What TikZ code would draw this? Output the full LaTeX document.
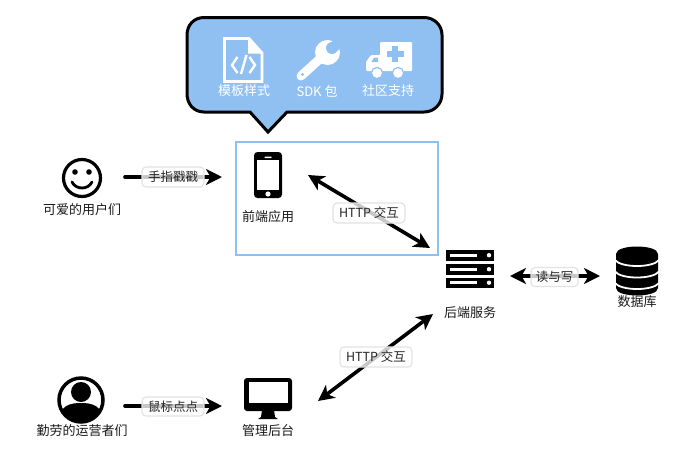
\documentclass[tikz,border=0pt]{standalone}
\usepackage{fontspec}
\setmainfont{Noto Sans CJK SC}
\usetikzlibrary{arrows.meta}
\definecolor{bubbleblue}{HTML}{90C0F2}
\definecolor{framegray}{HTML}{E2E2E2}
\tikzset{
 x=1pt,y=-1pt,
 conn/.style={line width=3.6pt,black,line cap=round,-{Stealth[length=16pt,width=16pt,inset=4.5pt]}},
 conntwo/.style={line width=3.6pt,black,{Stealth[length=16pt,width=16pt,inset=4.5pt]}-{Stealth[length=16pt,width=16pt,inset=4.5pt]}},
 caption/.style={inner sep=0pt,font=\fontsize{13}{15}\selectfont,text=black!90},
 bubbletext/.style={inner sep=0pt,font=\fontsize{13}{15}\selectfont,text=white},
 edgelabel/.style={draw=framegray,line width=1.2pt,rounded corners=4pt,fill=white,fill opacity=.78,text opacity=1,draw opacity=1,text=black!85,inner sep=0pt,font=\fontsize{12.5}{15}\selectfont},
 glyphwhite/.style={draw=white,line width=3pt,line join=miter},
}
\begin{document}
\begin{tikzpicture}
\useasboundingbox (0,0) rectangle (695,461);
% bubble
\draw[fill=bubbleblue,line width=3pt,line join=miter]
 (204,17.5) -- (424,17.5) .. controls (434,17.5) and (442,25) .. (442,35)
 -- (442,94) .. controls (442,104) and (434,112) .. (424,112)
 -- (287,112) -- (268,132) -- (250,112) -- (204,112)
 .. controls (194,112) and (187,104) .. (187,94)
 -- (187,35) .. controls (187,25) and (194,17.5) .. (204,17.5) -- cycle;
% document icon
\draw[glyphwhite,line width=2.8pt] (224.5,38.5) -- (249,38.5) -- (262,53) -- (262,81.5) -- (224.5,81.5) -- cycle;
\fill[white] (248,38) -- (248,53.5) -- (262,53.5) -- cycle;
\draw[white,line width=2.4pt] (237.5,57) -- (232,65) -- (237.5,73);
\draw[white,line width=2.4pt] (249.5,57) -- (255,65) -- (249.5,73);
\draw[white,line width=2.4pt] (246.5,55) -- (241,74);
\node[bubbletext] (tpl) at (244,91) {模板样式};
% wrench
\draw[white,line width=9pt,line cap=round] (301,76) -- (322,57);
\fill[white] (327.5,52.5) circle[radius=12.5];
\fill[bubbleblue] (332,48) circle[radius=6];
\fill[bubbleblue] (328,46) -- (337,36) -- (345,44) -- (336,52) -- cycle;
\fill[bubbleblue] (302.5,74.5) circle[radius=1.7];
\node[bubbletext] (sdk) at (317,91) {SDK 包};
% ambulance
\fill[white,rounded corners=1pt] (380,42) -- (412,42) -- (412,71) -- (366,71) -- (366,62) -- (371,55) -- (380,55) -- cycle;
\fill[bubbleblue] (392,45.5) rectangle (398,62);
\fill[bubbleblue] (387,51) rectangle (403.5,57);
\fill[bubbleblue] (371.5,62) -- (374,57.5) -- (378,57.5) -- (378,62) -- cycle;
\draw[bubbleblue,line width=1.2pt,fill=white] (377,73) circle[radius=5.6];
\draw[bubbleblue,line width=1.2pt,fill=white] (398,73) circle[radius=5.6];
\node[bubbletext] (sup) at (388,91) {社区支持};
% frame
\draw[bubbleblue,line width=2pt] (236,141.5) rectangle (438,255);
% smile
\draw[line width=3.2pt] (82,178) circle[radius=18.5];
\fill (75,172) circle[radius=2.8];
\fill (89,172) circle[radius=2.8];
\draw[line width=2.8pt,line cap=round] (72,182) .. controls (76,190) and (88,190) .. (92,182);
\node[caption] (users) at (82,210) {可爱的用户们};
% phone
\fill[rounded corners=3.5pt] (254,152) rectangle (282,198);
\fill[white] (257,160) rectangle (279,190);
\fill[white] (268,194) circle[radius=2.6];
\fill[white,rounded corners=.5pt] (264.5,156.5) rectangle (271.5,158);
\node[caption] (front) at (268,217) {前端应用};
% server
\foreach \a/\b in {250/261,264/274.5,277.5/288}{
 \fill (446,\a) rectangle (494,\b);
 \fill[white] (450,\a+3.6) rectangle (477,\a+6.8);
 \fill[white] (489,\a+5.2) circle[radius=2.2];
}
\node[caption] (back) at (470,313) {后端服务};
% database
\fill (616,254) .. controls (616,244) and (658,244) .. (658,254) -- (658,288)
 .. controls (658,298) and (616,298) .. (616,288) -- cycle;
\foreach \y in {260,271.5,283}{
 \draw[white,line width=1.8pt] (615,\y) .. controls (621,\y+8) and (653,\y+8) .. (659,\y);
}
\node[caption] (db) at (637,302) {数据库};
% operator
\begin{scope}
\clip (81,400) circle[radius=22];
\fill (81,392) circle[radius=10];
\fill (58,425) .. controls (58,404) and (72,403) .. (81,403) .. controls (90,403) and (104,404) .. (104,425) -- cycle;
\end{scope}
\draw[line width=3.5pt] (81,400) circle[radius=22];
\node[caption] (ops) at (82,431) {勤劳的运营者们};
% monitor
\fill[rounded corners=3pt] (244,378) rectangle (292,411);
\fill[white] (248.5,382) rectangle (287.5,403);
\fill (262,410) -- (274,410) -- (275,417) -- (278,419) -- (258,419) -- (261,417) -- cycle;
\node[caption] (admin) at (268,431) {管理后台};
% connectors
\coordinate (c1a) at (125,177); \coordinate (c1b) at (222,177);
\coordinate (c2a) at (308,175); \coordinate (c2b) at (430,248);
\coordinate (c3a) at (510,276); \coordinate (c3b) at (600,276);
\coordinate (c4a) at (433,314); \coordinate (c4b) at (318,401);
\coordinate (c5a) at (125,406); \coordinate (c5b) at (222,406);
\draw[conn] (c1a) -- (c1b);
\draw[conntwo] (c2a) -- (c2b);
\draw[conntwo] (c3a) -- (c3b);
\draw[conntwo] (c4a) -- (c4b);
\draw[conn] (c5a) -- (c5b);
% labels
\node[edgelabel,minimum width=62pt,minimum height=20pt] (l1) at (173,177) {手指戳戳};
\node[edgelabel,minimum width=72pt,minimum height=20pt] (l2) at (369,213) {HTTP 交互};
\node[edgelabel,minimum width=47pt,minimum height=19pt] (l3) at (554.5,277) {读与写};
\node[edgelabel,minimum width=72pt,minimum height=20pt] (l4) at (376,357) {HTTP 交互};
\node[edgelabel,minimum width=62pt,minimum height=19pt] (l5) at (173,406.5) {鼠标点点};
\end{tikzpicture}
\end{document}
